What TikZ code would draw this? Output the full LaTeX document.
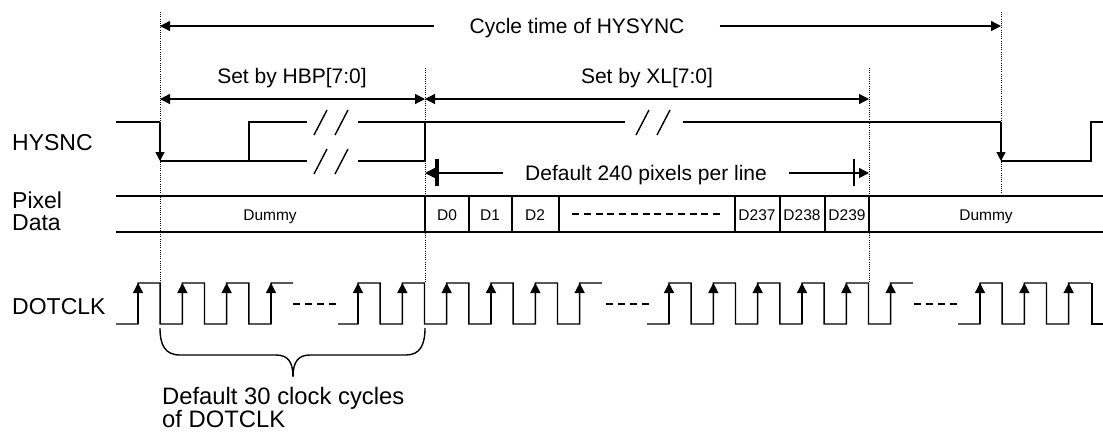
\documentclass[tikz,border=0pt]{standalone}
\usepackage{fontspec}
\setmainfont{Liberation Sans}
\usepackage{tikz}
\usetikzlibrary{arrows.meta}

\newcommand{\sigfont}{\fontsize{23}{26}\selectfont}
\newcommand{\notefont}{\fontsize{23.8}{26}\selectfont}
\newcommand{\dimfont}{\fontsize{21}{24}\selectfont}
\newcommand{\cellfont}{\fontsize{15.5}{18}\selectfont}

\tikzset{
    wave/.style={line width=1.4pt, line join=miter},
    guide/.style={line width=1pt, dash pattern=on 1pt off 1.2pt},
    endhead/.style={-{Triangle[length=10pt,width=10pt]}},
    bothheads/.style={{Triangle[length=10pt,width=10pt]}-{Triangle[length=10pt,width=10pt]}},
    rise/.style={-{Triangle[length=10pt,width=10pt]}},
    fall/.style={-{Triangle[length=9pt,width=9pt]}},
    label/.style={inner sep=0pt, anchor=base west, font=\sigfont},
    dimtext/.style={inner ysep=0pt, anchor=base, font=\dimfont},
    cell/.style={inner sep=0pt, anchor=base, font=\cellfont},
}

\begin{document}
\begin{tikzpicture}[x=1pt, y=-1pt]
    \useasboundingbox (0,0) rectangle (1103,432);

    \foreach \gx/\gt/\gb in {160/12/283, 425/68/283, 869/68/283, 1001/12/196} {
        \draw[guide] (\gx,\gt) -- (\gx,\gb);
    }

    \node[label] (hsync) at (12,150) {HYSNC};
    \node[label] (pixel) at (12,208) {Pixel};
    \node[label] (data) at (12,230) {Data};
    \node[label] (dotclk) at (12,314) {DOTCLK};

    \coordinate (cA) at (160,26);
    \coordinate (cB) at (1001,26);
    \node[dimtext, inner xsep=35pt] (cycle) at (577,33) {Cycle time of HYSYNC};
    \draw[wave, endhead] (cycle.west |- cA) -- (cA);
    \draw[wave, endhead] (cycle.east |- cB) -- (cB);

    \coordinate (hA) at (160,99);
    \coordinate (hB) at (425,99);
    \coordinate (hC) at (869,99);
    \node[dimtext, inner xsep=0pt] (hbp) at (292,83) {Set by HBP[7:0]};
    \node[dimtext, inner xsep=0pt] (xl) at (647,83) {Set by XL[7:0]};
    \draw[wave, bothheads] (hA) -- (hB);
    \draw[wave, bothheads] (hB) -- (hC);

    \coordinate (pA) at (425,173);
    \coordinate (pB) at (869,173);
    \node[dimtext, inner xsep=22pt] (perline) at (646,180) {Default 240 pixels per line};
    \draw[wave, endhead] (perline.west |- pA) -- (pA);
    \draw[wave, endhead] (perline.east |- pB) -- (pB);
    \draw[line width=4pt] (437,159) -- (437,186);
    \draw[line width=2pt] (854,159) -- (854,186);

    \draw[wave] (116,122) -- (160,122);
    \draw[wave, fall] (160,122) -- (160,161);
    \draw[wave] (160,161) -- (307,161);
    \draw[wave] (249,161) -- (249,122) -- (307,122);
    \draw[wave] (358,122) -- (425,122);
    \draw[wave] (358,161) -- (425,161) -- (425,122) -- (625,122);
    \draw[wave] (683,122) -- (1001,122);
    \draw[wave, fall] (1001,122) -- (1001,161);
    \draw[wave] (1001,161) -- (1091,161) -- (1091,122) -- (1103,122);
    \foreach \bx/\by in {331/122, 331/161, 653/122} {
        \draw[wave] (\bx-17,\by+13) -- (\bx-4,\by-12);
        \draw[wave] (\bx+4,\by+13) -- (\bx+17,\by-12);
    }

    \draw[wave] (116,196) -- (1103,196);
    \draw[wave] (116,232) -- (1103,232);
    \foreach \bx in {425, 469, 512, 559, 735, 780, 825, 869} {
        \draw[wave] (\bx,196) -- (\bx,232);
    }
    \foreach \cx/\ct [count=\ci] in {270/Dummy, 447/D0, 490/D1, 535/D2, 757/D237, 802/D238, 847/D239, 986/Dummy} {
        \node[cell] (cell\ci) at (\cx,220) {\ct};
    }
    \draw[wave, dash pattern=on 7pt off 4.75pt] (572,214) -- (720,214);

    \foreach \s/\r/\n in {116/138/3, 338/358/5, 647/669/5, 958/980/2} {
        \draw[wave] (\s,324) -- (\r,324) -- (\r,283) -- ({\r+22.17},283)
            \foreach \k in {1,...,\n} {
                -- ({\r+\k*44.33-22.17},324) -- ({\r+\k*44.33},324)
                -- ({\r+\k*44.33},283) -- ({\r+\k*44.33+22.17},283)
            };
        \foreach \k in {0,...,\n} {
            \draw[wave, rise] ({\r+\k*44.33},324) -- ({\r+\k*44.33},283);
        }
    }
    \draw[wave] (1091.8,283) -- (1091.8,324) -- (1103,324);
    \foreach \dx in {293, 606, 914} {
        \draw[wave, dash pattern=on 7pt off 5pt] (\dx,304) -- ({\dx+45},304);
    }

    \draw[wave] (160,328) .. controls (160,345) and (165,355) .. (180,355) -- (276,355)
        .. controls (288,355) and (293,362) .. (293,377)
        .. controls (293,362) and (298,355) .. (310,355) -- (406,355)
        .. controls (420,355) and (425,345) .. (425,328);
    \node[label, font=\notefont] (cyc1) at (162,404) {Default 30 clock cycles};
    \node[label, font=\notefont] (cyc2) at (162,427) {of DOTCLK};
\end{tikzpicture}
\end{document}
